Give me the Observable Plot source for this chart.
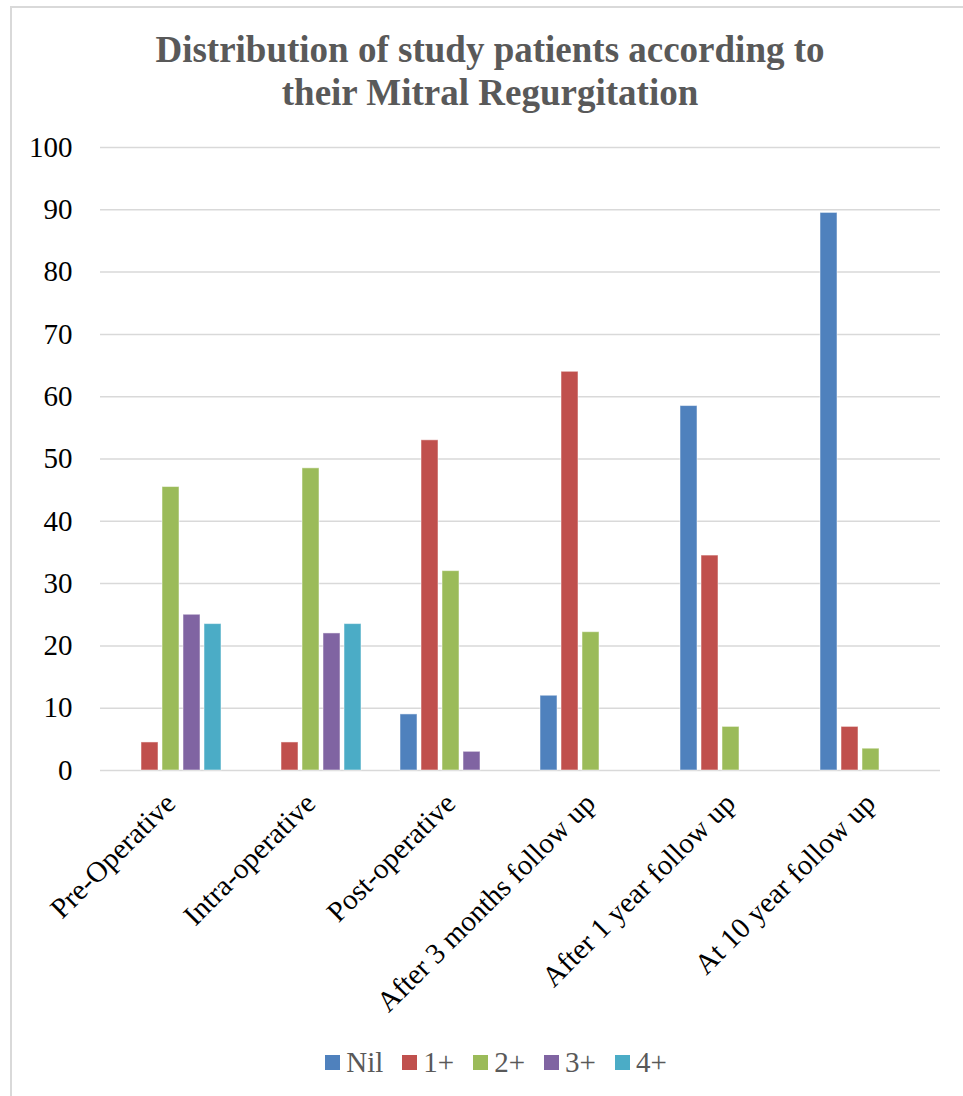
<!DOCTYPE html>
<html>
<head>
<meta charset="utf-8">
<script src="https://cdn.jsdelivr.net/npm/d3@7"></script>
<script src="https://cdn.jsdelivr.net/npm/@observablehq/plot@0.6"></script>
<style>
  body { margin: 0; background: #fff; }
  #page { position: relative; width: 963px; height: 1096px; overflow: hidden; }
  #frame { position: absolute; left: 10px; top: 6px; width: 962px; height: 1200px; border: 2px solid #d9d9d9; box-sizing: border-box; }
  #chart { position: absolute; left: 0; top: 0; width: 963px; }
  #title { margin-left: 10px; width: 960px; height: 120px; box-sizing: border-box; padding-top: 28px;
           font: bold 37px/43px "Liberation Serif", serif; color: #595959; text-align: center; }
  #plot svg { display: block; }
  #legend { height: 64px; display: flex; align-items: center; justify-content: center; padding-left: 48px; }
  #legend .lg-swatches, #legend .lg-swatches * { font-family: "Liberation Serif", serif !important; }
  #legend .lg-swatches { font-size: 29px !important; color: #595959; margin: 0 !important; }
  #legend .lg-swatches-wrap { min-height: 0 !important; }
  #legend .lg-swatch { margin-right: 19px !important; }
  #legend .lg-swatch > svg { margin-right: 6px !important; }
</style>
</head>
<body>
<div id="page">
  <div id="frame"></div>
  <div id="chart">
    <div id="title">Distribution of study patients according to<br>their Mitral Regurgitation</div>
    <div id="plot"></div>
    <div id="legend"></div>
  </div>
</div>
<script>
// Stages of assessment (x categories)
const categories = [
  "Pre-Operative",
  "Intra-operative",
  "Post-operative",
  "After 3 months follow up",
  "After 1 year follow up",
  "At 10 year follow up"
];

// Mitral regurgitation grades (series)
const grades = ["Nil", "1+", "2+", "3+", "4+"];
const gradeColors = ["#4F81BD", "#C0504D", "#9BBB59", "#8064A2", "#4BACC6"];

// Percentage of patients per grade, one value per stage
const nilValues   = [0, 0, 9, 12, 58.5, 89.5];
const plus1Values = [4.5, 4.5, 53, 64, 34.5, 7];
const plus2Values = [45.5, 48.5, 32, 22.2, 7, 3.5];
const plus3Values = [25, 22, 3, 0, 0, 0];
const plus4Values = [23.5, 23.5, 0, 0, 0, 0];

// Y axis tick labels
const yTicks = [0, 10, 20, 30, 40, 50, 60, 70, 80, 90, 100];

const seriesValues = [nilValues, plus1Values, plus2Values, plus3Values, plus4Values];
const rows = grades.flatMap((grade, i) =>
  categories.map((category, j) => ({category, grade, value: seriesValues[i][j]}))
);

const chart = Plot.plot({
  width: 963,
  height: 910,
  marginTop: 27,
  marginBottom: 260,
  marginLeft: 97,
  marginRight: 21,
  style: {
    fontFamily: '"Liberation Serif", serif',
    fontSize: "29px",
    color: "#000",
    background: "transparent",
    overflow: "visible"
  },
  fx: {domain: categories, padding: 0, label: null},
  x: {domain: grades, paddingInner: 0.2, paddingOuter: 0.85, axis: null},
  y: {domain: [0, 100], label: null},
  color: {domain: grades, range: gradeColors},
  marks: [
    Plot.gridY(yTicks, {stroke: "#d9d9d9", strokeOpacity: 1, strokeWidth: 1.5}),
    Plot.axisY(yTicks, {tickSize: 0, tickPadding: 28, fontSize: 29, label: null}),
    Plot.axisFx({anchor: "bottom", tickRotate: -45, tickSize: 0, tickPadding: 28, fontSize: 29, label: null}),
    Plot.barY(rows.filter(d => d.value > 0), {
      fx: "category",
      x: "grade",
      y: "value",
      fill: "grade",
      stroke: "#ffffff",
      strokeOpacity: 0.5,
      strokeWidth: 1
    })
  ]
});
document.getElementById("plot").appendChild(chart);

const legend = chart.legend("color", {swatchSize: 15, className: "lg"});
document.getElementById("legend").appendChild(legend);
</script>
</body>
</html>
